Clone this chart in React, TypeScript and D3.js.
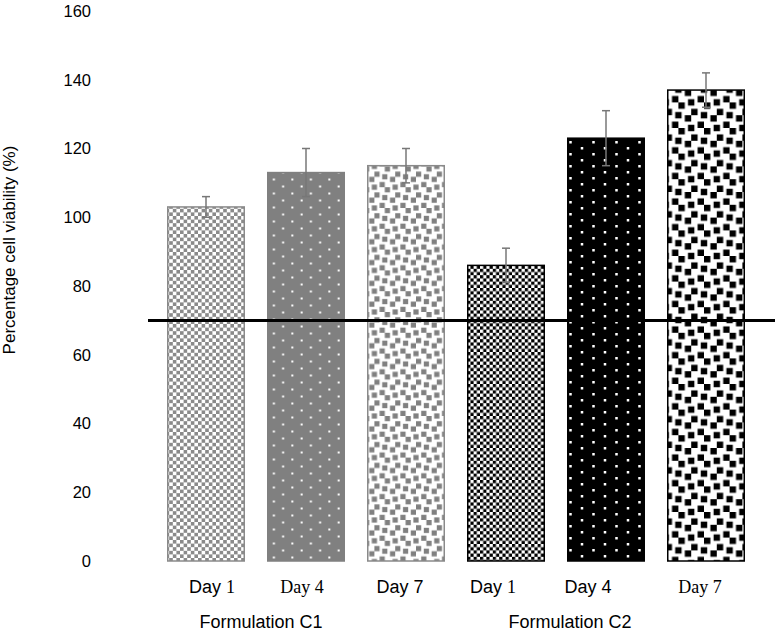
import React from "react";
import * as d3 from "d3";

const categories = ["Day 1", "Day 4", "Day 7", "Day 1", "Day 4", "Day 7"];
const groups = ["Formulation C1", "Formulation C2"];
const values = [103, 113, 115, 86, 123, 137];
const errors = [3, 7, 5, 5, 8, 5];
const yTicks = [0, 20, 40, 60, 80, 100, 120, 140, 160];
const threshold = 70;
const yTitle = "Percentage cell viability (%)";

// layout-only constants
const W = 780;
const H = 632;
const labelDx = [6, -4, -6, -13, -18, -6];
const labelSerifWord = [false, true, false, false, false, true];
const labelSerifNum = [true, true, false, true, false, true];
const groupCenters = [261, 570];

const confettiBlocks: [number, number][] = [
  [4, 0], [0, 2], [3, 3], [6, 4], [2, 6], [7, 7],
];

function Confetti({ id, cell, color }: { id: string; cell: number; color: string }) {
  const t = cell * 8;
  const rects: JSX.Element[] = [];
  confettiBlocks.forEach(([c, r], i) => {
    for (const dx of [-8, 0]) {
      for (const dy of [-8, 0]) {
        rects.push(
          <rect key={`${i}-${dx}-${dy}`} x={(c + dx) * cell} y={(r + dy) * cell} width={cell * 2} height={cell * 2} fill={color} />
        );
      }
    }
  });
  return (
    <pattern id={id} patternUnits="userSpaceOnUse" width={t} height={t}>
      <rect width={t} height={t} fill="#fff" />
      {rects}
    </pattern>
  );
}

function Checker({ id, cell, color }: { id: string; cell: number; color: string }) {
  const t = cell * 2;
  return (
    <pattern id={id} patternUnits="userSpaceOnUse" width={t} height={t}>
      <rect width={t} height={t} fill="#fff" />
      <rect x={0} y={0} width={cell} height={cell} fill={color} />
      <rect x={cell} y={cell} width={cell} height={cell} fill={color} />
    </pattern>
  );
}

function Dots({ id, w, h, dot, bg }: { id: string; w: number; h: number; dot: number; bg: string }) {
  return (
    <pattern id={id} patternUnits="userSpaceOnUse" width={w} height={h}>
      <rect width={w} height={h} fill={bg} />
      <rect x={w * 0.25} y={h * 0.25} width={dot} height={dot} fill="#fff" />
      <rect x={w * 0.75} y={h * 0.75} width={dot} height={dot} fill="#fff" />
    </pattern>
  );
}

export default function App() {
  const x = d3
    .scaleBand<number>()
    .domain(d3.range(values.length))
    .range([156, 756])
    .paddingInner(0.22)
    .paddingOuter(0.11);
  const y = d3.scaleLinear().domain([0, 160]).range([561, 11]);

  const gray = "#8a8a8a";
  const strokes = [gray, "#808080", gray, "#000", "#000", "#000"];
  const sans = "'Liberation Sans', Arial, Helvetica, sans-serif";
  const serif = "'Liberation Serif', 'Times New Roman', serif";

  return (
    <svg width={W} height={H} style={{ position: "absolute", left: 0, top: 0, background: "#fff" }}>
      <defs>
        <Checker id="p0" cell={3.6} color={gray} />
        <Dots id="p1" w={18.5} h={14} dot={2} bg="#808080" />
        <Confetti id="p2" cell={2.6} color="#808080" />
        <Checker id="p3" cell={3.2} color="#000" />
        <Dots id="p4" w={23} h={12} dot={2.5} bg="#000" />
        <Confetti id="p5" cell={3.2} color="#000" />
      </defs>

      {/* y tick labels */}
      {yTicks.map((t) => (
        <text key={t} x={91} y={y(t)} dy="0.36em" textAnchor="end" fontFamily={sans} fontSize={16.5} fill="#000">
          {t}
        </text>
      ))}

      {/* y title */}
      <text
        transform={`translate(15, 250) rotate(-90)`}
        textAnchor="middle"
        fontFamily={sans}
        fontSize={17}
        fill="#000"
      >
        {yTitle}
      </text>

      {/* bars */}
      {values.map((v, i) => (
        <rect
          key={i}
          x={x(i)! + 0.75}
          y={y(v)}
          width={x.bandwidth() - 1.5}
          height={y(0) - y(v)}
          fill={`url(#p${i})`}
          stroke={strokes[i]}
          strokeWidth={1.5}
        />
      ))}

      {/* error bars */}
      {values.map((v, i) => {
        const cx = x(i)! + x.bandwidth() / 2;
        const top = y(v + errors[i]);
        const bot = y(v - errors[i]);
        return (
          <g key={i} stroke="#777" strokeWidth={1.5}>
            <line x1={cx} x2={cx} y1={top} y2={bot} />
            <line x1={cx - 4} x2={cx + 4} y1={top} y2={top} />
            <line x1={cx - 4} x2={cx + 4} y1={bot} y2={bot} />
          </g>
        );
      })}

      {/* threshold line */}
      <line x1={148} x2={775} y1={y(threshold)} y2={y(threshold)} stroke="#000" strokeWidth={3} />

      {/* category labels */}
      {categories.map((c, i) => {
        const [word, num] = c.split(" ");
        return (
          <text key={i} x={x(i)! + x.bandwidth() / 2 + labelDx[i]} y={593} textAnchor="middle" fontSize={18} fill="#000">
            <tspan fontFamily={labelSerifWord[i] ? serif : sans}>{word} </tspan>
            <tspan fontFamily={labelSerifNum[i] ? serif : sans}>{num}</tspan>
          </text>
        );
      })}

      {/* group labels */}
      {groups.map((g, i) => (
        <text key={g} x={groupCenters[i]} y={628} textAnchor="middle" fontFamily={sans} fontSize={18} fill="#000">
          {g}
        </text>
      ))}
    </svg>
  );
}
